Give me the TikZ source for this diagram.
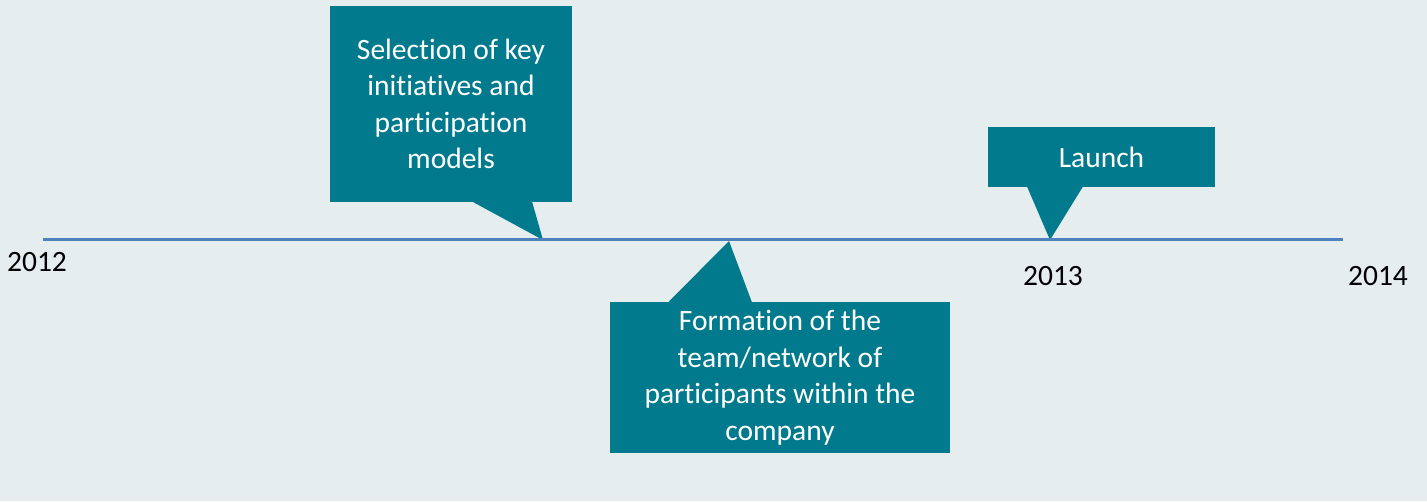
\documentclass[tikz,border=0pt]{standalone}
\usepackage{fontspec}
\setmainfont[RawFeature={-liga;-clig;-calt;-dlig}]{Carlito}
\usetikzlibrary{calc}
\definecolor{bgcol}{HTML}{E5EDEE}
\definecolor{boxcol}{HTML}{007A8C}
\definecolor{linecol}{HTML}{4F81BD}
\begin{document}
\begin{tikzpicture}[x=1pt, y=1pt,
	box/.style={fill=boxcol, text=white, align=center, inner sep=0pt, outer sep=0pt, font=\fontsize{29.5}{36.5}\selectfont},
	year/.style={text=black, inner sep=0pt, font=\fontsize{29.5}{34}\selectfont}]
	\fill[bgcol] (0, 0) rectangle (1427, 501);
	\useasboundingbox (0, 0) rectangle (1427, 501);
	% timeline
	\coordinate (start) at (43, 261);
	\coordinate (end) at (1343, 261);
	\coordinate (t1) at (543, 261);
	\coordinate (t2) at (729, 260);
	\coordinate (t3) at (1050, 261);
	% callouts
	\node[box, minimum width=242, minimum height=196] (sel) at (451, 397) {Selection of key\\initiatives and\\participation\\models};
	\node[box, minimum width=340, minimum height=151] (form) at (780, 123.5) {Formation of the\\team/network of\\participants within the\\company};
	\node[box, minimum width=227, minimum height=60] (launch) at (1101.5, 344) {Launch};
	\fill[boxcol] ($(sel.south west)+(142, 0.5)$) -- (t1) -- ($(sel.south west)+(202, 0.5)$) -- cycle;
	\fill[boxcol] ($(form.north west)+(58, -0.5)$) -- (t2) -- ($(form.north west)+(142, -0.5)$) -- cycle;
	\fill[boxcol] ($(launch.south west)+(39, 0.5)$) -- (t3) -- ($(launch.south west)+(95, 0.5)$) -- cycle;
	\draw[linecol, line width=3] (start) -- (end);
	% years
	\node[year] (y12) at (37, 239) {2012};
	\node[year] (y13) at (1053, 225) {2013};
	\node[year] (y14) at (1378, 225) {2014};
\end{tikzpicture}
\end{document}
